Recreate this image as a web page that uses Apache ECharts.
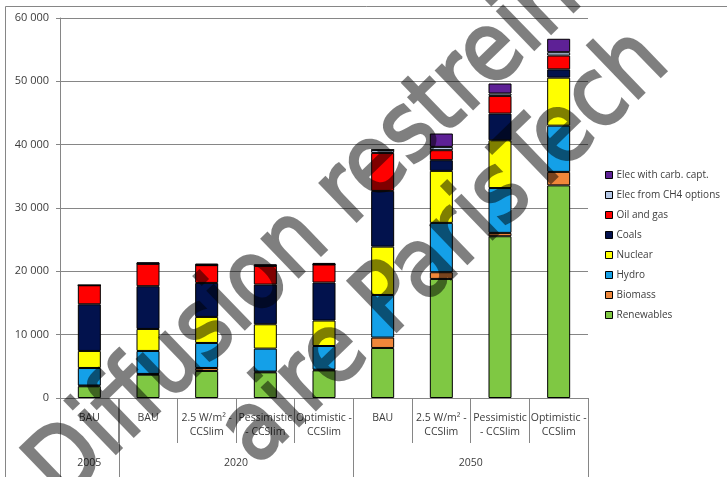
<!DOCTYPE html>
<html>
<head>
<meta charset="utf-8">
<script src="https://cdn.jsdelivr.net/npm/echarts@6/dist/echarts.min.js"></script>
<style>
  html, body { margin: 0; padding: 0; background: #ffffff; }
  #chart { width: 727px; height: 477px; }
  /* the watermark sits on its own canvas layer, shown half transparent */
  #chart canvas[data-zr-dom-id="zr_1"] { opacity: 0.5; }
</style>
</head>
<body>
<div id="chart"></div>
<script>
// Scenario columns (lower axis level) and their year groups (upper axis level)
const categories = [
  'BAU',
  'BAU', '2.5 W/m² -\nCCSlim', 'Pessimistic\n- CCSlim', 'Optimistic -\nCCSlim',
  'BAU', '2.5 W/m² -\nCCSlim', 'Pessimistic\n- CCSlim', 'Optimistic -\nCCSlim'
];
const years = ['2005', '2020', '2050'];
const yearSpans = [1, 4, 4];

// Electricity production by source, stacked bottom to top
const renewables = [1850, 3680, 4270, 4050, 4360, 7900, 18800, 25540, 33570];
const biomass    = [120, 120, 470, 120, 120, 1640, 1060, 530, 2130];
const hydro      = [2770, 3630, 3950, 3630, 3730, 6730, 7790, 7080, 7300];
const nuclear    = [2690, 3470, 4110, 3840, 4020, 7630, 8210, 7540, 7580];
const coals      = [7370, 6750, 5370, 6270, 6000, 8800, 1690, 4220, 1310];
const oilGas     = [3000, 3540, 2810, 2960, 2850, 6000, 1580, 2790, 2180];
const elecCH4    = [0, 0, 0, 0, 0, 480, 520, 380, 530];
const elecCarb   = [0, 250, 250, 250, 250, 0, 2110, 1580, 2120];

const seriesNames = ['Renewables', 'Biomass', 'Hydro', 'Nuclear', 'Coals', 'Oil and gas',
                     'Elec from CH4 options', 'Elec with carb. capt.'];
const seriesData = [renewables, biomass, hydro, nuclear, coals, oilGas, elecCH4, elecCarb];
const seriesColors = ['#7fc843', '#f0873a', '#14a0e8', '#ffff00', '#02124d', '#ff0000',
                      '#b4c8e6', '#5e2196'];

// y axis
const yMin = 0, yMax = 60000, yStep = 10000;

const watermarkLines = ['Diffusion restreinte', 'aire ParisTech'];

const FONT = '"Open Sans", "DejaVu Sans", sans-serif';
const GRID_GRAY = '#868686';
const TEXT_COLOR = '#3c3c3c';

const chart = echarts.init(document.getElementById('chart'), null, { renderer: 'canvas' });

function fmtThousands(v) {
  return String(v).replace(/\B(?=(\d{3})+(?!\d))/g, ' ');
}

const option = {
  animation: false,
  backgroundColor: '#ffffff',
  grid: { left: 60, right: 139, top: 18, bottom: 79, containLabel: false },
  legend: {
    orient: 'vertical',
    left: 600,
    top: 163,
    itemWidth: 7,
    itemHeight: 7,
    itemGap: 6,
    icon: 'rect',
    data: seriesNames.slice().reverse(),
    itemStyle: { borderColor: '#000', borderWidth: 1 },
    textStyle: { fontFamily: FONT, fontSize: 10, color: TEXT_COLOR, lineHeight: 14, padding: [0, 0, 0, -1] },
    selectedMode: false
  },
  xAxis: {
    type: 'category',
    data: categories,
    axisLine: { show: true, lineStyle: { color: GRID_GRAY, width: 1 } },
    axisTick: { show: true, interval: 0, length: 45, lineStyle: { color: GRID_GRAY } },
    axisLabel: {
      interval: 0, margin: 13, fontFamily: FONT, fontSize: 10.5, lineHeight: 14,
      color: TEXT_COLOR
    },
    splitLine: { show: false }
  },
  yAxis: {
    type: 'value',
    min: yMin, max: yMax, interval: yStep,
    axisLine: { show: true, lineStyle: { color: GRID_GRAY } },
    axisTick: { show: true, length: 4, lineStyle: { color: GRID_GRAY } },
    axisLabel: { margin: 11, fontFamily: FONT, fontSize: 11, color: TEXT_COLOR, formatter: fmtThousands },
    splitLine: { show: true, lineStyle: { color: GRID_GRAY, width: 1 } }
  },
  series: seriesNames.map((name, i) => ({
    name: name,
    type: 'bar',
    stack: 'total',
    barWidth: 23,
    data: seriesData[i],
    itemStyle: { color: seriesColors[i], borderColor: '#000', borderWidth: 1 },
    emphasis: { disabled: true }
  }))
};

chart.setOption(option);

// Year group separators and labels under the scenario labels, placed from the axis scale
function groupGraphics() {
  const p0 = chart.convertToPixel({ xAxisIndex: 0 }, 0);
  const p1 = chart.convertToPixel({ xAxisIndex: 0 }, 1);
  const band = p1 - p0;
  const axisY = chart.convertToPixel({ yAxisIndex: 0 }, yMin);
  const els = [];
  let start = 0;
  const edges = [0];
  yearSpans.forEach(n => { start += n; edges.push(start); });
  edges.forEach(e => {
    const x = Math.round(p0 - band / 2 + e * band) + 0.5;
    els.push({
      type: 'line', silent: true, z: 5,
      shape: { x1: x, y1: axisY, x2: x, y2: 480 },
      style: { stroke: GRID_GRAY, lineWidth: 1 }
    });
  });
  years.forEach((yr, i) => {
    const cx = p0 - band / 2 + (edges[i] + edges[i + 1]) / 2 * band;
    els.push({
      type: 'text', silent: true, z: 5,
      x: cx, y: 463,
      style: { text: yr, fontFamily: FONT, fontSize: 10.5, fill: TEXT_COLOR, align: 'center', verticalAlign: 'middle' }
    });
  });
  // outer chart frame
  els.push({
    type: 'rect', silent: true, z: 1,
    shape: { x: 5.5, y: 6.5, width: 900, height: 700 },
    style: { fill: null, stroke: GRID_GRAY, lineWidth: 1 }
  });
  // diagonal watermark, two lines, on a separate layer
  const rot = 44 * Math.PI / 180;
  const wmStyle = { font: '96px "DejaVu Sans"', fill: '#000', stroke: '#000', lineWidth: 3, lineJoin: 'round', verticalAlign: 'middle' };
  els.push({
    type: 'text', silent: true, zlevel: 1, z: 100,
    x: 46, y: 486, rotation: rot, scaleX: 0.88, scaleY: 1,
    style: Object.assign({ text: watermarkLines[0], align: 'left' }, wmStyle)
  });
  els.push({
    type: 'text', silent: true, zlevel: 1, z: 100,
    x: 654, y: 48, rotation: rot, scaleX: 0.88, scaleY: 1,
    style: Object.assign({ text: watermarkLines[1], align: 'right' }, wmStyle)
  });
  return els;
}

chart.setOption({ graphic: groupGraphics() });

// make sure the watermark layer is half transparent
chart.getDom().querySelectorAll('canvas').forEach((c, i) => {
  if (i > 0) c.style.opacity = '0.5';
});
</script>
</body>
</html>
